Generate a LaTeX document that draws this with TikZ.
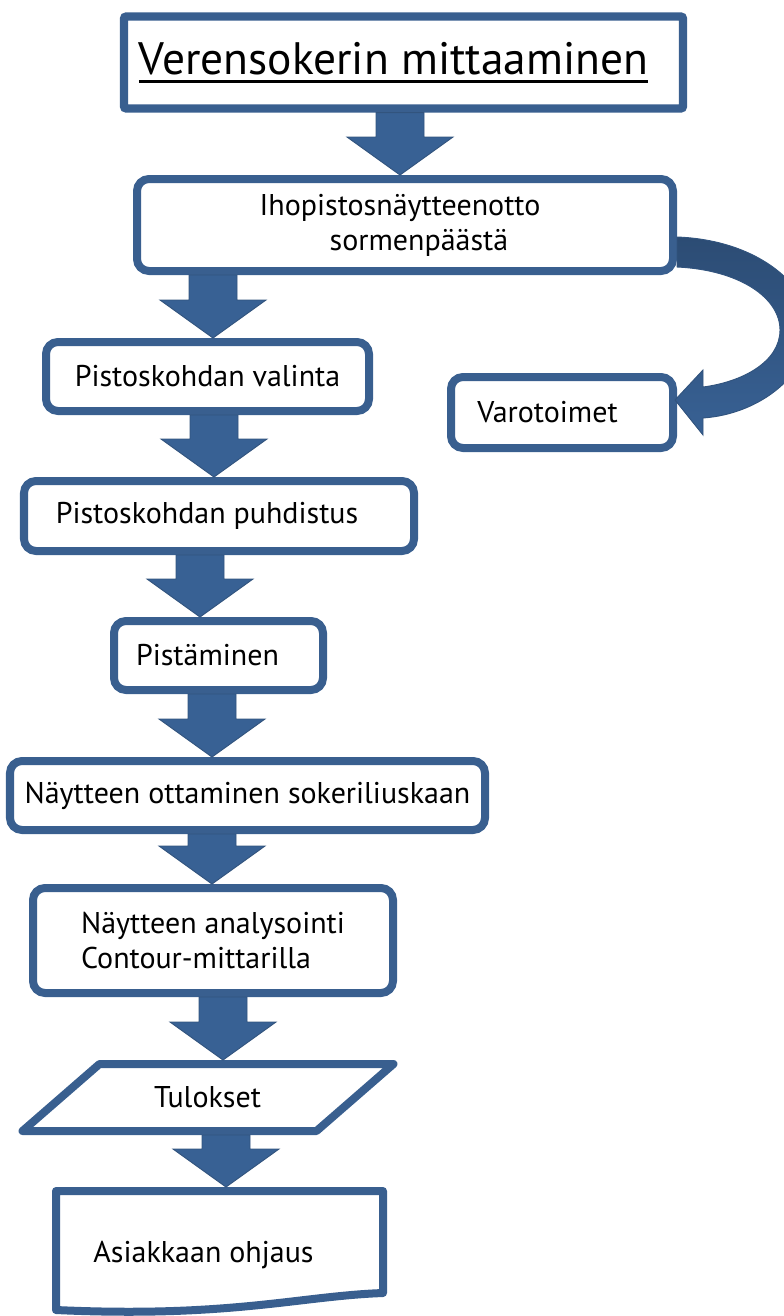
\documentclass[tikz,border=0pt]{standalone}
\usepackage{fontspec}
\setmainfont{PT Sans}
\usetikzlibrary{calc}
\definecolor{flowblue}{RGB}{57,95,143}
\definecolor{arrowfill}{RGB}{56,97,148}
\definecolor{arrowedge}{RGB}{50,84,126}
\definecolor{arcdark}{RGB}{44,76,116}
\newcommand{\px}{0.03cm}
\newcommand{\bodyfont}{\fontsize{25.6}{30}\selectfont}
\newcommand{\titleline}[1]{{\setbox0\hbox{#1}\rlap{\rule[-7pt]{\wd0}{2.5pt}}\box0}}
% fat downward arrow: x position, from node, to node
\newcommand{\blockarrow}[3]{%
  \coordinate (ax) at (#1,0);
  \filldraw[blockarr]
    ($(#2.south -| ax)+(-24,0)$) -- ($(#2.south -| ax)+(24,0)$)
    -- ($(#3.north -| ax)+(24,-38)$) -- ($(#3.north -| ax)+(53,-38)$)
    -- (#3.north -| ax)
    -- ($(#3.north -| ax)+(-53,-38)$) -- ($(#3.north -| ax)+(-24,-38)$) -- cycle;}
\tikzset{
  flowbox/.style={draw=flowblue, line width=0.24cm, fill=white,
                  rounded corners=0.36cm, align=center, font=\bodyfont},
  titlebox/.style={draw=flowblue, line width=0.25cm, fill=white,
                   rounded corners=2pt, font=\fontsize{38.8}{42}\selectfont},
  plainbox/.style={outer sep=0pt, inner sep=0pt, font=\bodyfont},
  shapeline/.style={draw=flowblue, line width=0.24cm, line join=round, fill=white},
  blockarr/.style={fill=arrowfill, draw=arrowedge, line width=0.8pt}
}

\begin{document}
\begin{tikzpicture}[x=0.03cm, y=-0.03cm]
  \useasboundingbox (0,0) rectangle (783,1316);

  \node[titlebox, minimum width=559*\px, minimum height=92*\px]
    (title) at (403.5,62.5) {\titleline{Verensokerin mittaaminen}\hspace*{0.6cm}};
  \node[flowbox, minimum width=536*\px, minimum height=92*\px, align=left]
    (ihopisto) at (405,225) {Ihopistosnäytteenotto\hspace*{0.3cm}\\\hspace*{2.1cm}sormenpäästä};
  \node[flowbox, minimum width=323*\px, minimum height=69*\px]
    (valinta) at (207.5,376.5) {Pistoskohdan valinta};
  \node[flowbox, minimum width=222*\px, minimum height=71*\px]
    (varotoimet) at (562,412.5) {Varotoimet\hspace*{0.87cm}};
  \node[flowbox, minimum width=390*\px, minimum height=70*\px]
    (puhdistus) at (219,516) {Pistoskohdan puhdistus\hspace*{0.72cm}};
  \node[flowbox, minimum width=209*\px, minimum height=69*\px]
    (pistaminen) at (218.5,655.5) {Pistäminen\hspace*{0.66cm}};
  \node[flowbox, minimum width=475*\px, minimum height=69*\px]
    (ottaminen) at (247.5,795.5) {Näytteen ottaminen sokeriliuskaan};
  \node[flowbox, minimum width=360*\px, minimum height=105*\px, align=left]
    (analysointi) at (213,940.5) {Näytteen analysointi\\Contour-mittarilla};

  % parallelogram
  \node[plainbox, minimum height=75*\px, minimum width=200*\px]
    (tulokset) at (207.5,1097.5) {};
  \draw[shapeline] ($(tulokset)+(-108,-33.5)$) -- ($(tulokset)+(186,-33.5)$)
    -- ($(tulokset)+(109,33.5)$) -- ($(tulokset)+(-185,33.5)$) -- cycle;
  \node[plainbox] at (tulokset) {Tulokset};

  % document shape
  \node[plainbox, minimum height=130*\px, minimum width=335*\px]
    (ohjaus) at (219.5,1252) {};
  \draw[shapeline] ($(ohjaus)+(-163.5,-61)$) -- ($(ohjaus)+(163.5,-61)$)
    -- ($(ohjaus)+(163.5,41)$)
    .. controls ($(ohjaus)+(80.5,44)$) and ($(ohjaus)+(10.5,66)$) .. ($(ohjaus)+(-163.5,58)$)
    -- cycle;
  \node[plainbox] at ($(ohjaus)+(0,3)$) {Asiakkaan ohjaus\hspace*{0.96cm}};

  \foreach \xa/\from/\to in {400/title/ihopisto, 213/ihopisto/valinta,
      214/valinta/puhdistus, 200/puhdistus/pistaminen, 212/pistaminen/ottaminen,
      212/ottaminen/analysointi, 223/analysointi/tulokset, 226/tulokset/ohjaus}
    {\blockarrow{\xa}{\from}{\to}}

  % curved arrow to Varotoimet
  \coordinate (cs) at (ihopisto.east);
  \coordinate (ce) at (varotoimet.east);
  \shadedraw[top color=arcdark, bottom color=arrowfill, draw=arrowedge, line width=0.8pt]
    ($(cs)+(0,12)$) .. controls ($(cs)+(83,15)$) and ($(cs)+(135,63)$) .. ($(cs)+(133,105)$)
    .. controls ($(ce)+(131,-37.5)$) and ($(ce)+(83,1.5)$) .. ($(ce)+(26,5.5)$)
    -- ($(ce)+(26,22.5)$) -- ($(ce)+(-2,-12.5)$) -- ($(ce)+(26,-42.5)$) -- ($(ce)+(26,-25.5)$)
    .. controls ($(ce)+(65,-30.5)$) and ($(ce)+(103,-50.5)$) .. ($(cs)+(103,105)$)
    .. controls ($(cs)+(103,73)$) and ($(cs)+(63,45)$) .. ($(cs)+(0,42)$) -- cycle;
\end{tikzpicture}
\end{document}
